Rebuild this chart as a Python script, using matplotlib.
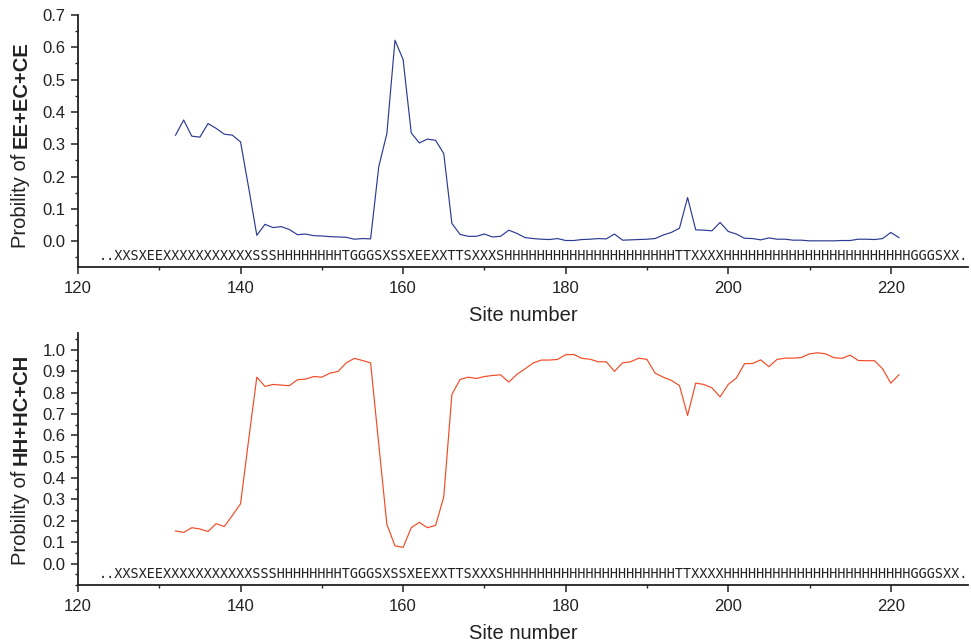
import numpy as np
import matplotlib
matplotlib.use("Agg")
import matplotlib.pyplot as plt
from matplotlib.ticker import MultipleLocator, FormatStrFormatter

plt.rcParams["font.family"] = ["Liberation Sans", "DejaVu Sans"]

# ── Data ──
sites = np.arange(132, 222)

p_strand = [
    0.328, 0.375, 0.325, 0.322, 0.364, 0.349, 0.331, 0.328, 0.307, 0.165,  # 132-141
    0.018, 0.052, 0.042, 0.045, 0.036, 0.020, 0.022, 0.017, 0.016, 0.014,  # 142-151
    0.013, 0.012, 0.006, 0.008, 0.007, 0.230, 0.333, 0.622, 0.562, 0.335,  # 152-161
    0.304, 0.316, 0.312, 0.271, 0.055, 0.021, 0.015, 0.015, 0.022, 0.013,  # 162-171
    0.015, 0.034, 0.024, 0.011, 0.008, 0.006, 0.005, 0.008, 0.002, 0.002,  # 172-181
    0.005, 0.006, 0.008, 0.007, 0.022, 0.003, 0.004, 0.005, 0.006, 0.008,  # 182-191
    0.019, 0.027, 0.040, 0.135, 0.035, 0.034, 0.032, 0.058, 0.030, 0.022,  # 192-201
    0.009, 0.008, 0.004, 0.010, 0.006, 0.006, 0.003, 0.003, 0.001, 0.001,  # 202-211
    0.001, 0.001, 0.002, 0.002, 0.006, 0.006, 0.005, 0.008, 0.027, 0.011,  # 212-221
]

p_helix = [
    0.153, 0.146, 0.168, 0.162, 0.150, 0.187, 0.173, 0.226, 0.280, 0.580,  # 132-141
    0.872, 0.829, 0.838, 0.835, 0.832, 0.860, 0.863, 0.875, 0.872, 0.891,  # 142-151
    0.899, 0.939, 0.960, 0.950, 0.939, 0.560, 0.184, 0.083, 0.076, 0.168,  # 152-161
    0.193, 0.168, 0.179, 0.312, 0.791, 0.861, 0.872, 0.866, 0.875, 0.880,  # 162-171
    0.883, 0.849, 0.885, 0.911, 0.938, 0.952, 0.952, 0.955, 0.977, 0.978,  # 172-181
    0.960, 0.956, 0.944, 0.944, 0.899, 0.939, 0.944, 0.961, 0.955, 0.891,  # 182-191
    0.872, 0.857, 0.833, 0.693, 0.844, 0.838, 0.822, 0.780, 0.838, 0.868,  # 192-201
    0.935, 0.936, 0.953, 0.921, 0.955, 0.961, 0.961, 0.964, 0.981, 0.986,  # 202-211
    0.981, 0.963, 0.960, 0.975, 0.950, 0.949, 0.949, 0.911, 0.844, 0.883,  # 212-221
]

# secondary-structure string, one character per site starting at 123
seq_start = 123
seq_parts = ["..", "XXSXEE", "X" * 11, "SSS", "H" * 8, "T", "GGG",
             "SXSSXEEXXTTSXXXS", "H" * 21, "TT", "XXXX", "H" * 23, "GGGSXX", "."]
sequence = "".join(seq_parts)

ylabel_bold = ["EE+EC+CE", "HH+HC+CH"]

# ── Plot ──
W, H = 971, 644
fig = plt.figure(figsize=(W / 100, H / 100), dpi=100)

ax_top = fig.add_axes([78 / W, 1 - 267 / H, 890 / W, 252 / H])
ax_bot = fig.add_axes([78 / W, 1 - 585 / H, 890 / W, 252.3 / H])

ax_top.plot(sites, p_strand, color="#2b3a94", lw=0.85)
ax_bot.plot(sites, p_helix, color="#f24b24", lw=0.85)

ax_top.set_ylim(-0.08, 0.7)
ax_bot.set_ylim(-0.1, 1.08)
ax_top.set_yticks(np.arange(0, 0.71, 0.1))
ax_bot.set_yticks(np.arange(0, 1.01, 0.1))

label_y = [1 - 248 / H, 1 - 565 / H]

# monospace font size so that one character spans one site
xmin, xmax = 120, 229.5
px_per_site = 890 / (xmax - xmin)
seq_fontsize = px_per_site / 0.602 * 72 / 100

for ax, bold, ly in zip([ax_top, ax_bot], ylabel_bold, label_y):
    ax.set_xlim(xmin, xmax)
    ax.xaxis.set_major_locator(MultipleLocator(20))
    ax.xaxis.set_minor_locator(MultipleLocator(10))
    ax.yaxis.set_minor_locator(MultipleLocator(0.05))
    ax.yaxis.set_major_formatter(FormatStrFormatter("%.1f"))
    for side in ["top", "right"]:
        ax.spines[side].set_visible(False)
    for side in ["left", "bottom"]:
        ax.spines[side].set_linewidth(1.3)
        ax.spines[side].set_color("#222222")
    ax.tick_params(which="major", direction="out", length=5, width=1.1,
                   labelsize=12, colors="#222222", pad=4)
    ax.tick_params(which="minor", direction="out", length=2.5, width=1.0,
                   colors="#222222")
    ax.tick_params(axis="x", which="major", pad=5)
    ax.set_xlabel("Site number", fontsize=14.5, color="#222222", labelpad=7)

    ax.text(seq_start - 0.5, 0.016, sequence,
            transform=ax.get_xaxis_transform(),
            ha="left", va="bottom", fontsize=seq_fontsize, color="#222222",
            family="DejaVu Sans Mono")

    plain = fig.text(21 / W, ly, "Probility of ", rotation=90,
                     ha="center", va="bottom", fontsize=14.5, color="#222222")
    ax.annotate(bold, xy=(0.5, 1.0), xycoords=plain, rotation=90,
                ha="center", va="bottom", fontsize=14.5, fontweight="bold",
                color="#222222", annotation_clip=False)

fig.savefig("out.png", dpi=100)
